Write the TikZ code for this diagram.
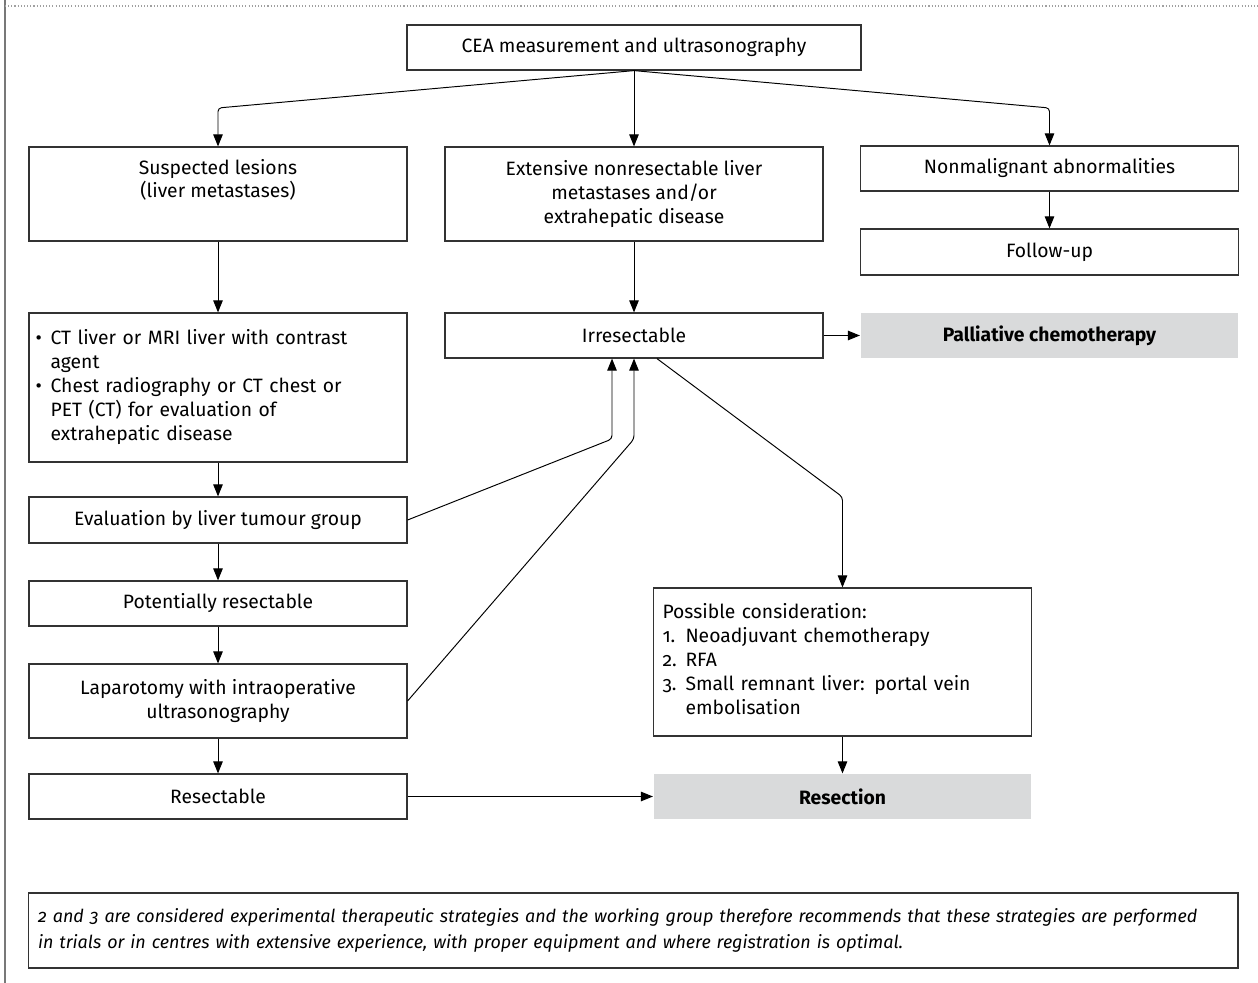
\documentclass[tikz,border=0pt]{standalone}
\usepackage{fontspec}
\setmainfont{Fira Sans}[Numbers=OldStyle]
\usetikzlibrary{arrows.meta}
\definecolor{boxgrey}{RGB}{217,218,219}
\definecolor{framegrey}{RGB}{120,120,120}
\newcommand{\chartfont}{\fontsize{11}{13.6}\selectfont}

\tikzset{
  box/.style={draw=black!80, line width=0.7pt, inner sep=0pt, align=center,
    minimum width=7.56cm, minimum height=0.9cm, font=\chartfont},
  listbox/.style={box, align=left, inner xsep=#1, text width=7.56cm-2*#1},
  greybox/.style={box, draw=none, fill=boxgrey, font=\chartfont\bfseries},
  conn/.style={line width=0.55pt, rounded corners=2pt,
    -{Triangle[length=0.24cm, width=0.19cm]}}
}

\begin{document}
\begin{tikzpicture}[x=0.02cm, y=-0.02cm]
\useasboundingbox (0,0) rectangle (1258,983);

% page frame
\draw[framegrey, line width=0.8pt] (5,0) -- (5,983);
\draw[framegrey!70, line width=0.6pt, dash pattern=on 0.6pt off 1.2pt] (5,6) -- (1258,6);

% top
\node[box, minimum width=9.08cm] (cea) at (634,47.5) {CEA measurement and ultrasonography};

% first row
\node[box, minimum height=1.88cm] (susp) at (218,194) {Suspected lesions\\(liver metastases)\\\strut};
\node[box, minimum height=1.88cm] (ext) at (634,194) {Extensive nonresectable liver\\metastases and/or\\extrahepatic disease};
\node[box] (nonmal) at (1049.5,168.5) {Nonmalignant abnormalities};
\node[box, minimum height=0.92cm] (follow) at (1049.5,252) {Follow-up};

% middle
\node[box] (irres) at (634,335.5) {Irresectable};
\node[greybox] (pall) at (1049.5,335.5) {Palliative chemotherapy};

% left column
\node[listbox=0.13cm, minimum height=2.98cm] (ct) at (218,387.5) {%
  \begin{tabular}{@{}l@{\hskip 5pt}l@{}}
  \textbullet & CT liver or MRI liver with contrast\\
   & agent\\
  \textbullet & Chest radiography or CT chest or\\
   & PET (CT) for evaluation of\\
   & extrahepatic disease
  \end{tabular}};
\node[box, minimum height=0.92cm] (eval) at (218,520) {Evaluation by liver tumour group};
\node[box] (pot) at (218,603.5) {Potentially resectable};
\node[box, minimum height=1.48cm] (lap) at (218,701) {Laparotomy with intraoperative\\ultrasonography};
\node[box] (resec) at (218,796.5) {Resectable};

% right lower
\node[listbox=0.18cm, minimum height=2.96cm] (poss) at (842.5,662) {%
  \begin{tabular}{@{}l@{\hskip 5pt}l@{}}
  \multicolumn{2}{@{}l@{}}{Possible consideration:}\\
  1. & Neoadjuvant chemotherapy\\
  2. & RFA\\
  3. & Small remnant liver: portal vein\\
   & embolisation
  \end{tabular}};
\node[greybox] (resection) at (842.5,796.5) {Resection};

% note
\node[box, minimum width=24.2cm, minimum height=1.5cm, align=left, inner xsep=0.2cm,
  text width=23.8cm, font=\fontsize{10.2}{15}\selectfont\itshape] (note) at (633,930.5) {%
  \begin{tabular}{@{}l@{}}
  2 and 3 are considered experimental therapeutic strategies and the working group therefore recommends that these strategies are performed\\
  in trials or in centres with extensive experience, with proper equipment and where registration is optimal.
  \end{tabular}};

% connectors
\draw[conn] (cea.south) -- (218,108) -- (susp.north);
\draw[conn] (cea.south) -- (ext.north);
\draw[conn] (cea.south) -- (1049.5,108) -- (nonmal.north);
\draw[conn] (nonmal) -- (follow);
\draw[conn] (susp) -- (ct);
\draw[conn] (ext) -- (irres);
\draw[conn] (irres) -- (pall);
\draw[conn] (ct) -- (eval);
\draw[conn] (eval) -- (pot);
\draw[conn] (pot) -- (lap);
\draw[conn] (lap) -- (resec);
\draw[conn] (eval.east) -- (612,439) -- ([xshift=-0.44cm]irres.south);
\draw[conn] (lap.east) -- (634,439) -- (irres.south);
\draw[conn] ([xshift=0.46cm]irres.south) -- (842.5,497) -- (poss.north);
\draw[conn] (poss) -- (resection);
\draw[conn] (resec) -- (resection);

\end{tikzpicture}
\end{document}
